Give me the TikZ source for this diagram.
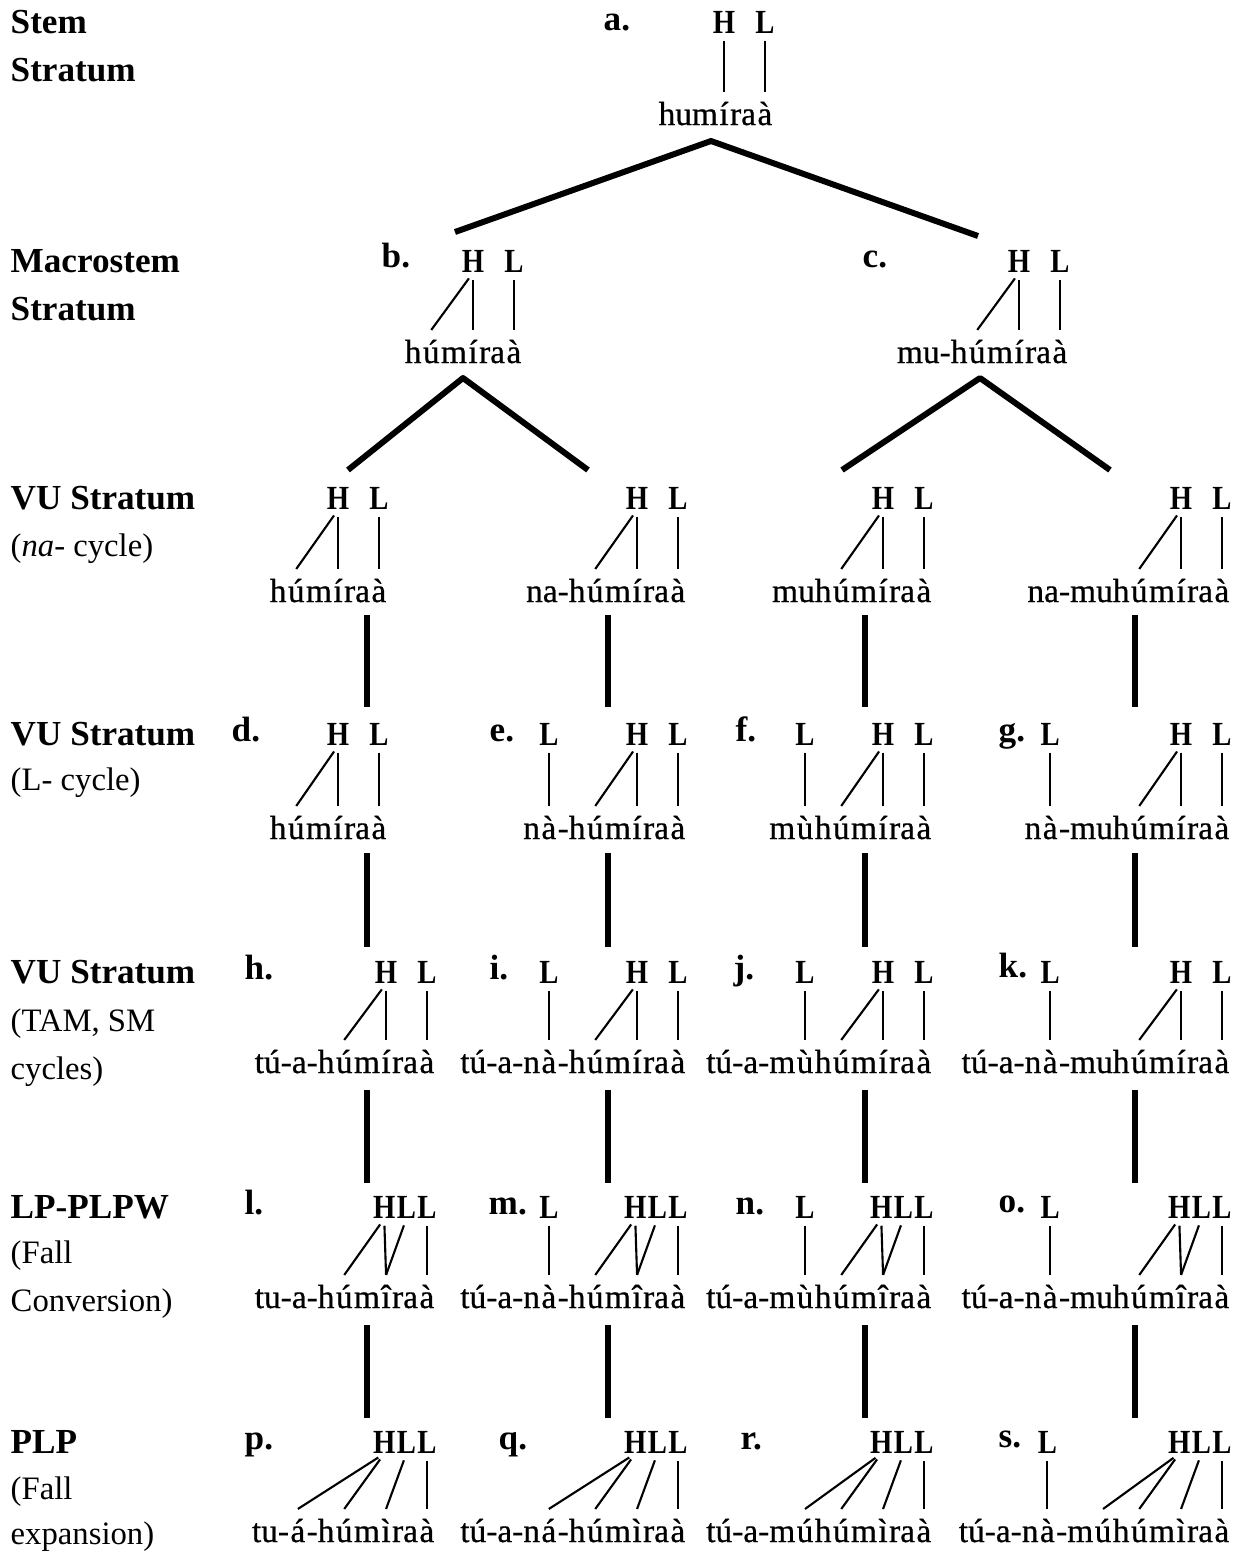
\documentclass[tikz,border=0pt]{standalone}
\usepackage{fontspec}
\setmainfont{Liberation Serif}
\newfontfamily\tonefont[FakeStretch=0.85]{Liberation Serif}
\newfontfamily\wordface[FakeBold=0.6]{Liberation Serif}
\newcommand\wordfont{\wordface\fontsize{9.5}{11}\selectfont}

\begin{document}
\begin{tikzpicture}[x=0.01cm, y=-0.01cm,
	syl/.style={inner sep=0pt, anchor=base east, text height=9.2pt, text depth=2pt, font=\wordfont},
	tone/.style={inner sep=0pt, anchor=base, text depth=0pt, font=\tonefont\bfseries\fontsize{9.6}{10}\selectfont},
	ex/.style={inner sep=0pt, anchor=base west, font=\bfseries},
	stratum/.style={inner sep=0pt, anchor=base west, font=\bfseries},
	gloss/.style={inner sep=0pt, anchor=base west, font=\fontsize{9.3}{11}\selectfont},
	assoc/.style={line width=0.6pt, shorten <=2pt},
	branch/.style={line width=1.7pt, line join=round}]

	\useasboundingbox (0,0) rectangle (1241,1554);

	%baselines of the tone tiers
	\coordinate (rowA) at (0,33);
	\coordinate (rowB) at (0,272);
	\coordinate (rowC) at (0,509);
	\coordinate (rowD) at (0,745);
	\coordinate (rowE) at (0,983);
	\coordinate (rowF) at (0,1218);
	\coordinate (rowG) at (0,1453);

	%strata
	\node[stratum] (st1) at (10,33) {Stem};
	\node[stratum] (st1b) at (10,81) {Stratum};
	\node[stratum] (st2) at (10,272) {Macrostem};
	\node[stratum] (st2b) at (10,320) {Stratum};
	\node[stratum] (st3) at (10,509) {VU Stratum};
	\node[gloss] (st3b) at (10,556) {(\textit{na}- cycle)};
	\node[stratum] (st4) at (10,745) {VU Stratum};
	\node[gloss] (st4b) at (10,790) {(L- cycle)};
	\node[stratum] (st5) at (10,983) {VU Stratum};
	\node[gloss] (st5b) at (10,1031) {(TAM, SM};
	\node[gloss] (st5c) at (10,1079) {cycles)};
	\node[stratum] (st6) at (10,1218) {LP-PLPW};
	\node[gloss] (st6b) at (10,1263) {(Fall};
	\node[gloss] (st6c) at (10,1311) {Conversion)};
	\node[stratum] (st7) at (10,1453) {PLP};
	\node[gloss] (st7b) at (10,1499) {(Fall};
	\node[gloss] (st7c) at (10,1544) {expansion)};

	%example letters
	\foreach \ltr/\x/\y in {a/603/30, b/381/267, c/862/267, d/231/741, e/489/741, f/735/741, g/998/741,
		h/244/979, i/489/979, j/733/979, k/998/977, l/244/1214, m/488/1214, n/735/1214, o/998/1212,
		p/244/1449, q/498/1449, r/740/1449, s/998/1447}
		\node[ex] (lab\ltr) at (\x,\y) {\ltr.};

	%words, built right to left from the final vowel
	\path (773,125) node[syl] (aFin) {à} (aFin.base west) node[syl] (aRa) {ra}
		(aRa.base west) node[syl] (aI) {í} (aI.base west) node[syl] (aPre) {hum};
	\foreach \w/\x/\y/\vow in {b/522/363/í, c/1068/363/í, v1/387/602/í, v2/686/602/í, v3/932/602/í, v4/1230/602/í,
		d/387/839/í, e/686/839/í, f/932/839/í, g/1230/839/í, h/435/1073/í, i/686/1073/í, j/932/1073/í, k/1230/1073/í,
		l/435/1308/î, m/686/1308/î, n/932/1308/î, o/1230/1308/î, p/435/1542/ì, q/686/1542/ì, r/932/1542/ì, s/1230/1542/ì}
		\path (\x,\y) node[syl] (\w Fin) {à}
			(\w Fin.base west) node[syl] (\w Ra) {ra}
			(\w Ra.base west) node[syl] (\w I) {\vow}
			(\w I.base west) node[syl] (\w M) {m}
			(\w M.base west) node[syl] (\w U) {ú};
	%word beginnings
	\path (bU.base west) node[syl] (bPre) {h};
	\path (cU.base west) node[syl] (cPre) {mu-h};
	\path (v1U.base west) node[syl] (v1Pre) {h};
	\path (v2U.base west) node[syl] (v2Pre) {na-h};
	\path (v3U.base west) node[syl] (v3Pre) {muh};
	\path (v4U.base west) node[syl] (v4Pre) {na-muh};
	\path (dU.base west) node[syl] (dPre) {h};
	\path (eU.base west) node[syl] (eMid) {-h} (eMid.base west) node[syl] (eN) {à} (eN.base west) node[syl] (ePre) {n};
	\path (fU.base west) node[syl] (fMid) {h} (fMid.base west) node[syl] (fN) {ù} (fN.base west) node[syl] (fPre) {m};
	\path (gU.base west) node[syl] (gMid) {-muh} (gMid.base west) node[syl] (gN) {à} (gN.base west) node[syl] (gPre) {n};
	\path (hU.base west) node[syl] (hPre) {tú-a-h};
	\path (iU.base west) node[syl] (iMid) {-h} (iMid.base west) node[syl] (iN) {à} (iN.base west) node[syl] (iPre) {tú-a-n};
	\path (jU.base west) node[syl] (jMid) {h} (jMid.base west) node[syl] (jN) {ù} (jN.base west) node[syl] (jPre) {tú-a-m};
	\path (kU.base west) node[syl] (kMid) {-muh} (kMid.base west) node[syl] (kN) {à} (kN.base west) node[syl] (kPre) {tú-a-n};
	\path (lU.base west) node[syl] (lPre) {tu-a-h};
	\path (mU.base west) node[syl] (mMid) {-h} (mMid.base west) node[syl] (mN) {à} (mN.base west) node[syl] (mPre) {tú-a-n};
	\path (nU.base west) node[syl] (nMid) {h} (nMid.base west) node[syl] (nN) {ù} (nN.base west) node[syl] (nPre) {tú-a-m};
	\path (oU.base west) node[syl] (oMid) {-muh} (oMid.base west) node[syl] (oN) {à} (oN.base west) node[syl] (oPre) {tú-a-n};
	\path (pU.base west) node[syl] (pMid) {-h} (pMid.base west) node[syl] (pA) {á} (pA.base west) node[syl] (pPre) {tu-};
	\path (qU.base west) node[syl] (qMid) {-h} (qMid.base west) node[syl] (qA) {á} (qA.base west) node[syl] (qPre) {tú-a-n};
	\path (rU.base west) node[syl] (rMid) {h} (rMid.base west) node[syl] (rA) {ú} (rA.base west) node[syl] (rPre) {tú-a-m};
	\path (sU.base west) node[syl] (sMid) {h} (sMid.base west) node[syl] (sA) {ú} (sA.base west) node[syl] (sDash) {-m}
		(sDash.base west) node[syl] (sN) {à} (sN.base west) node[syl] (sPre) {tú-a-n};

	%H over the stem i, L over the final a
	\foreach \w/\row in {a/rowA, b/rowB, c/rowB, v1/rowC, v2/rowC, v3/rowC, v4/rowC, d/rowD, e/rowD, f/rowD, g/rowD,
		h/rowE, i/rowE, j/rowE, k/rowE} {
		\node[tone] (\w H) at (\w I |- \row) {H};
		\node[tone] (\w L) at (\w Fin |- \row) {L};
		\draw[assoc] (\w H.south) -- (\w I.north);
		\draw[assoc] (\w L.south) -- (\w Fin.north);
	}
	\foreach \w in {b, c, v1, v2, v3, v4, d, e, f, g, h, i, j, k}
		\draw[assoc] (\w H.south) -- (\w U.north);

	%fall: HLL clusters
	\foreach \w/\row in {l/rowF, m/rowF, n/rowF, o/rowF, p/rowG, q/rowG, r/rowG, s/rowG} {
		\node[tone] (\w L) at (\w Fin |- \row) {L};
		\node[tone, anchor=base east] (\w Lf) at (\w L.base west) {L};
		\node[tone, anchor=base east] (\w H) at (\w Lf.base west) {H};
		\draw[assoc] (\w H.south) -- (\w U.north);
		\draw[assoc] (\w Lf.south) -- (\w I.north);
		\draw[assoc] (\w L.south) -- (\w Fin.north);
	}
	\foreach \w in {l, m, n, o}
		\draw[assoc] (\w H.south) -- (\w I.north);
	\foreach \w in {p, q, r, s}
		\draw[assoc] (\w H.south) -- (\w A.north);

	%low tone of na- / mu-
	\foreach \w/\row in {e/rowD, f/rowD, g/rowD, i/rowE, j/rowE, k/rowE, m/rowF, n/rowF, o/rowF, s/rowG} {
		\node[tone] (\w Lp) at (\w N |- \row) {L};
		\draw[assoc] (\w Lp.south) -- (\w N.north);
	}

	%derivation branches
	\coordinate (aRoot) at (711,141);
	\coordinate (bTop) at (455,232);
	\coordinate (cTop) at (978,236);
	\coordinate (bRoot) at (463,378);
	\coordinate (cRoot) at (980,378);
	\coordinate (v1Top) at (348,470);
	\coordinate (v2Top) at (588,470);
	\coordinate (v3Top) at (842,470);
	\coordinate (v4Top) at (1110,470);
	\draw[branch] (bTop) -- (aRoot) -- (cTop);
	\draw[branch] (v1Top) -- (bRoot) -- (v2Top);
	\draw[branch] (v3Top) -- (cRoot) -- (v4Top);

	\foreach \x/\c in {367/1, 608/2, 865/3, 1135/4}
		\foreach \ya/\yb/\k in {615/707/1, 853/947/2, 1090/1183/3, 1325/1418/4} {
			\coordinate (bar\c\k) at (\x,\ya);
			\coordinate (bar\c\k e) at (\x,\yb);
			\draw[branch] (bar\c\k) -- (bar\c\k e);
		}

\end{tikzpicture}
\end{document}
